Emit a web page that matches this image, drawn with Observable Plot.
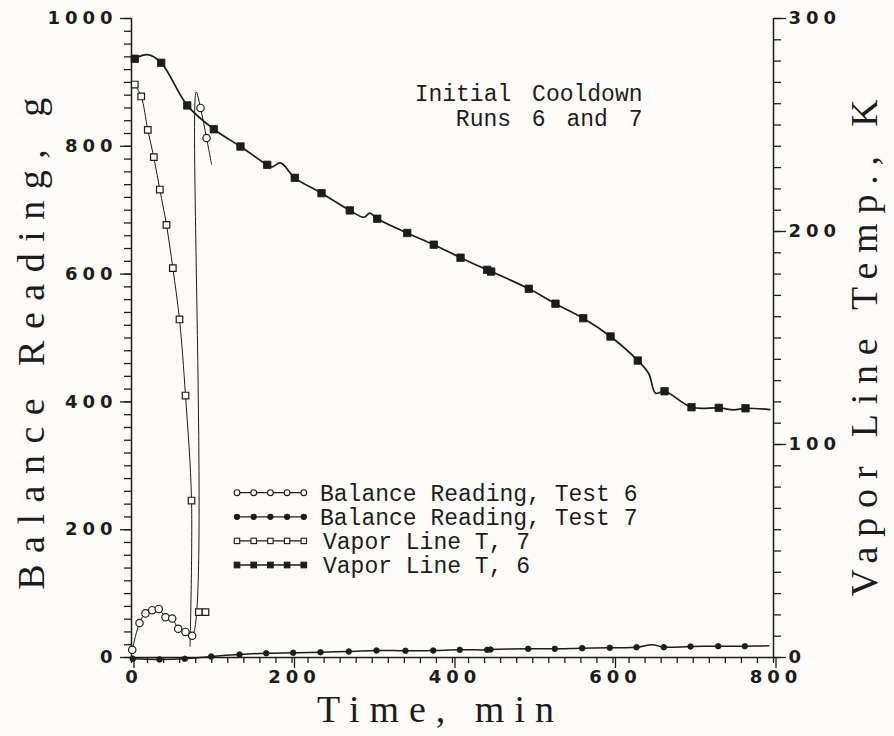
<!DOCTYPE html>
<html>
<head>
<meta charset="utf-8">
<script src="https://cdn.jsdelivr.net/npm/d3@7"></script>
<script src="https://cdn.jsdelivr.net/npm/@observablehq/plot@0.6"></script>
<style>
  html, body { margin: 0; padding: 0; background: #fcfbf8; }
  #chart { position: relative; width: 894px; height: 736px; }
  g[aria-label="y-axis tick label"] text,
  g[aria-label="x-axis tick label"] text { letter-spacing: 5px; font-weight: bold; }
  .title-x text { letter-spacing: 10px; }
  .title-yl text { letter-spacing: 11.5px; }
  .title-yr text { letter-spacing: 9.8px; }
  .note text { word-spacing: 7px; }
</style>
</head>
<body>
<div id="chart"></div>
<script>
// ---------- tick labels ----------
const timeTicks = [0, 200, 400, 600, 800];
const gramTicks = [0, 200, 400, 600, 800, 1000];
const tempTicks = [0, 100, 200, 300];

// ---------- titles / labels ----------
const xTitle = "Time, min";
const yLeftTitle = "Balance Reading, g";
const yRightTitle = "Vapor Line Temp., K";
const noteLines = ["Initial Cooldown", "Runs 6 and 7"];
const legendLabels = [
  "Balance Reading, Test 6",
  "Balance Reading, Test 7",
  "Vapor Line T, 7",
  "Vapor Line T, 6"
];

// ---------- series: Balance Reading, Test 6 (open circles, g) ----------
const test6Time   = [0.9, 10, 17.4, 25.8, 34, 42.4, 50.7, 58.2, 67.3, 75.6, 80.6, 86, 93.5, 99.7];
const test6Grams  = [12, 54, 69, 74, 76, 63, 61, 45, 40, 34, 885, 860, 813, 772];
const test6Marked = [1, 1, 1, 1, 1, 1, 1, 1, 1, 1, 0, 1, 1, 0];

// ---------- series: Balance Reading, Test 7 (filled circles, g) ----------
const test7Time   = [1.6, 34.9, 66.4, 99.3, 134.6, 167.9, 201.5, 235.5, 270.8, 305.3, 341.4, 376, 409.1, 443.2, 447.4, 494.3, 527.5, 561.6, 596, 629.3, 648.8, 663.3, 696.6, 731.1, 764.2, 794.1];
const test7Grams  = [-2, -3, -2, 1.6, 4.7, 6.7, 7.4, 8.3, 9.4, 11, 10.5, 11, 12, 12, 12.5, 13.6, 13.6, 14.6, 15.2, 16.1, 20, 16.1, 17.2, 17.7, 17.7, 18.3];
const test7Marked = [1, 1, 1, 1, 1, 1, 1, 1, 1, 1, 1, 1, 1, 1, 1, 1, 1, 1, 1, 1, 0, 1, 1, 1, 1, 0];

// ---------- series: Vapor Line T, 7 (open squares, K) ----------
const vap7Time    = [4.1, 12.1, 20.3, 27.8, 35.3, 43.6, 51.5, 59.8, 67.3, 74.8, 72.9, 83.9, 92.2];
const vap7Kelvin  = [269, 263.4, 247.7, 234.9, 219.7, 203.1, 182.8, 158.7, 123, 73.7, 5.2, 21.3, 21.3];
const vap7Marked  = [1, 1, 1, 1, 1, 1, 1, 1, 1, 1, 0, 1, 1];
const vap7Segment = [0, 0, 0, 0, 0, 0, 0, 0, 0, 0, 0, 1, 1];

// ---------- series: Vapor Line T, 6 (filled squares, K) ----------
const vap6Time   = [4.1, 20, 37.0, 69.4, 102.6, 135.8, 169.1, 175, 185.7, 203.5, 236.8, 272.0, 289.5, 297, 306.2, 343.6, 376.7, 410.0, 443.2, 448.2, 495.1, 528.3, 562.9, 596.9, 630.9, 644.6, 653, 664.2, 697.8, 731.8, 750.5, 765.1, 795.4];
const vap6Kelvin = [281.1, 283, 279.2, 259.2, 248.0, 239.9, 231.3, 230.3, 232.2, 225.2, 218.0, 209.9, 206.7, 208.6, 206.0, 199.3, 193.8, 187.7, 182.0, 181.2, 173.1, 166.1, 159.3, 150.7, 139.4, 133.2, 124.1, 125.0, 117.5, 117.2, 116.3, 117.0, 116.4];
const vap6Marked = [1, 0, 1, 1, 1, 1, 1, 0, 0, 1, 1, 1, 0, 0, 1, 1, 1, 1, 1, 1, 1, 1, 1, 1, 1, 0, 0, 1, 1, 1, 0, 1, 0];

// ---------- build tables ----------
const kToG = k => k * 1000 / 300;   // right axis (K) mapped onto the left axis (g)
const test6 = test6Time.map((t, i) => ({t, v: test6Grams[i], m: test6Marked[i]}));
const test7 = test7Time.map((t, i) => ({t, v: test7Grams[i], m: test7Marked[i]}));
const vap7 = vap7Time.map((t, i) => ({t, v: kToG(vap7Kelvin[i]), m: vap7Marked[i], s: vap7Segment[i]}));
const vap6 = vap6Time.map((t, i) => ({t, v: kToG(vap6Kelvin[i]), m: vap6Marked[i]}));

const INK = "#1c1c1c";
const BG = "#fcfbf8";
const tickFont = "DejaVu Sans";
const serif = "Liberation Serif";
const mono = "Liberation Mono";

const chart = Plot.plot({
  width: 894,
  height: 736,
  marginLeft: 131,
  marginRight: 121,
  marginTop: 18,
  marginBottom: 79,
  x: {domain: [0, 800]},
  y: {domain: [0, 1000]},
  style: {background: "transparent", color: INK, fontFamily: tickFont, fontSize: "18px"},
  marks: [
    // axis lines
    Plot.ruleX([0], {stroke: INK, strokeWidth: 1.5}),
    Plot.ruleX([800], {stroke: INK, strokeWidth: 1.5}),
    Plot.ruleY([0], {stroke: INK, strokeWidth: 1.5}),
    // left axis (g)
    Plot.axisY(d3.range(0, 1001, 20), {anchor: "left", tickSize: 7, tickFormat: () => "", label: null, strokeWidth: 1.3}),
    Plot.axisY(gramTicks, {anchor: "left", tickSize: 11, tickPadding: 3, tickFormat: d => String(d), label: null, strokeWidth: 1.3, fontSize: 18, fontFamily: tickFont}),
    // right axis (K)
    Plot.axisY(d3.range(0, 301, 10).map(kToG), {anchor: "right", tickSize: 7, tickFormat: () => "", label: null, strokeWidth: 1.3}),
    Plot.axisY(tempTicks.map(kToG), {anchor: "right", tickSize: 12, tickPadding: 3, tickFormat: v => String(Math.round(v * 0.3)), label: null, strokeWidth: 1.3, fontSize: 18, fontFamily: tickFont}),
    // x axis (min)
    Plot.axisX(d3.range(0, 801, 20), {anchor: "bottom", tickSize: 6, tickFormat: () => "", label: null, strokeWidth: 1.3}),
    Plot.axisX(timeTicks, {anchor: "bottom", tickSize: 11, tickPadding: 2, tickFormat: d => String(d), label: null, strokeWidth: 1.3, fontSize: 18, fontFamily: tickFont, dx: 2.5}),

    // lines
    Plot.line(vap6, {x: "t", y: "v", curve: "catmull-rom", stroke: INK, strokeWidth: 1.7}),
    Plot.line(test7, {x: "t", y: "v", curve: "catmull-rom", stroke: INK, strokeWidth: 1.5}),
    Plot.line(vap7, {x: "t", y: "v", z: "s", curve: "catmull-rom", stroke: INK, strokeWidth: 1}),
    Plot.line(test6, {x: "t", y: "v", curve: "catmull-rom", stroke: INK, strokeWidth: 1}),

    // markers
    Plot.dot(vap6.filter(d => d.m), {x: "t", y: "v", symbol: "square", r: 4.2, fill: INK, stroke: INK, strokeWidth: 0.8}),
    Plot.dot(test7.filter(d => d.m), {x: "t", y: "v", symbol: "circle", r: 2.8, fill: INK, stroke: INK, strokeWidth: 0.8}),
    Plot.dot(vap7.filter(d => d.m), {x: "t", y: "v", symbol: "square", r: 3.7, fill: BG, stroke: INK, strokeWidth: 1.2}),
    Plot.dot(test6.filter(d => d.m), {x: "t", y: "v", symbol: "circle", r: 3.7, fill: BG, stroke: INK, strokeWidth: 1.2}),

    // annotation
    Plot.text([noteLines[0]], {frameAnchor: "top-right", textAnchor: "end", lineAnchor: "middle", dx: -131, dy: 75.6, fontFamily: mono, fontSize: 23, fill: INK, className: "note"}),
    Plot.text([noteLines[1]], {frameAnchor: "top-right", textAnchor: "end", lineAnchor: "middle", dx: -131, dy: 100.6, fontFamily: mono, fontSize: 23, fill: INK, className: "note"}),

    // axis titles
    Plot.text([xTitle], {frameAnchor: "bottom", textAnchor: "middle", lineAnchor: "middle", dx: -12, dy: 52, fontFamily: serif, fontSize: 38, fill: INK, className: "title-x"}),
    Plot.text([yLeftTitle], {frameAnchor: "left", textAnchor: "middle", lineAnchor: "middle", dx: -100, dy: 0, rotate: -90, fontFamily: serif, fontSize: 38, fill: INK, className: "title-yl"}),
    Plot.text([yRightTitle], {frameAnchor: "right", textAnchor: "middle", lineAnchor: "middle", dx: 91, dy: 5, rotate: -90, fontFamily: serif, fontSize: 38, fill: INK, className: "title-yr"})
  ]
});

// ---------- legend (inside plot area) ----------
const svg = d3.select(chart);
const lg = svg.append("g").attr("class", "legend");
const legendStyles = [
  {symbol: "circle", filled: false},
  {symbol: "circle", filled: true},
  {symbol: "square", filled: false},
  {symbol: "square", filled: true}
];
const markerX = [237, 253.7, 270.4, 287.1, 303.8];
legendLabels.forEach((label, i) => {
  const y = 492.7 + i * 24.1;
  const st = legendStyles[i];
  lg.append("line")
    .attr("x1", markerX[0]).attr("x2", markerX[4])
    .attr("y1", y).attr("y2", y)
    .attr("stroke", INK).attr("stroke-width", 1.3);
  markerX.forEach(mx => {
    if (st.symbol === "circle") {
      lg.append("circle").attr("cx", mx).attr("cy", y).attr("r", st.filled ? 2.6 : 2.9)
        .attr("fill", st.filled ? INK : BG).attr("stroke", INK).attr("stroke-width", 1.1);
    } else {
      const s = st.filled ? 5.6 : 5.4;
      lg.append("rect").attr("x", mx - s / 2).attr("y", y - s / 2).attr("width", s).attr("height", s)
        .attr("fill", st.filled ? INK : BG).attr("stroke", INK).attr("stroke-width", 1.1);
    }
  });
  lg.append("text")
    .attr("x", i < 2 ? 320 : 323).attr("y", y).attr("dy", "0.34em")
    .attr("text-anchor", "start")
    .attr("font-family", mono).attr("font-size", 23).attr("fill", INK)
    .text(label);
});

document.getElementById("chart").appendChild(chart);
</script>
</body>
</html>
